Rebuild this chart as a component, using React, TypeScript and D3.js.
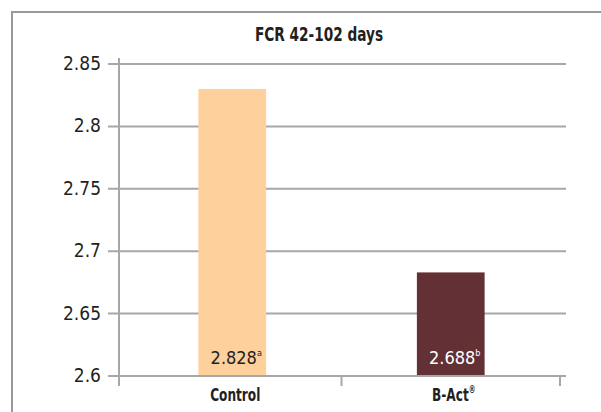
import React, { useEffect, useRef } from "react";
import * as d3 from "d3";

const categories = ["Control", "B-Act"];
const barValues = [2.83, 2.683];
const valueLabels = ["2.828", "2.688"];
const significance = ["a", "b"];
const yTicks = [2.6, 2.65, 2.7, 2.75, 2.8, 2.85];
const barColors = ["#fdd09c", "#633035"];
const labelColors = ["#231f20", "#ffffff"];

const App = () => {
  const svgRef = useRef<SVGSVGElement>(null);

  useEffect(() => {
    const width = 601,
      height = 412;
    const svg = d3.select(svgRef.current).attr("width", width).attr("height", height);
    svg.selectAll("*").remove();

    const font = "'DejaVu Sans Condensed', 'DejaVu Sans', sans-serif";
    const grid = "#a7a7a7";

    // frame
    svg
      .append("path")
      .attr("d", `M12,${height} L12,12 L${width},12`)
      .attr("fill", "none")
      .attr("stroke", "#9a9a9a")
      .attr("stroke-width", 2);

    const y = d3.scaleLinear().domain([2.6, 2.85]).range([376, 64]);
    const x = d3.scaleBand().domain(categories).range([123, 560]);
    const barW = x.bandwidth() * 0.31;

    svg
      .append("text")
      .attr("transform", "translate(319,41) scale(0.8,1)")
      .attr("text-anchor", "middle")
      .attr("font-family", font)
      .attr("font-weight", "bold")
      .attr("font-size", 19)
      .attr("fill", "#231f20")
      .text("FCR 42-102 days");

    // gridlines
    svg
      .append("g")
      .selectAll("line")
      .data(yTicks)
      .enter()
      .append("line")
      .attr("x1", 108)
      .attr("x2", 566)
      .attr("y1", (d) => y(d))
      .attr("y2", (d) => y(d))
      .attr("stroke", grid)
      .attr("stroke-width", 2);

    svg
      .append("g")
      .selectAll("text")
      .data(yTicks)
      .enter()
      .append("text")
      .attr("x", 101)
      .attr("y", (d) => y(d) + 6)
      .attr("text-anchor", "end")
      .attr("font-family", font)
      .attr("font-size", 19)
      .attr("fill", "#231f20")
      .text((d) => d3.format("")(d));

    // y axis line
    svg
      .append("line")
      .attr("x1", 119)
      .attr("x2", 119)
      .attr("y1", 58)
      .attr("y2", 386)
      .attr("stroke", grid)
      .attr("stroke-width", 2);

    // bars
    svg
      .append("g")
      .selectAll("rect")
      .data(barValues)
      .enter()
      .append("rect")
      .attr("x", (d, i) => x(categories[i])! + (x.bandwidth() - barW) / 2)
      .attr("y", (d) => y(d))
      .attr("width", barW)
      .attr("height", (d) => y(2.6) - y(d))
      .attr("fill", (d, i) => barColors[i]);

    // x axis over bars
    svg
      .append("line")
      .attr("x1", 108)
      .attr("x2", 566)
      .attr("y1", y(2.6))
      .attr("y2", y(2.6))
      .attr("stroke", grid)
      .attr("stroke-width", 2);

    const edges = categories.map((c) => x(c)! + x.bandwidth());
    svg
      .append("g")
      .selectAll("line")
      .data(edges)
      .enter()
      .append("line")
      .attr("x1", (d) => d)
      .attr("x2", (d) => d)
      .attr("y1", y(2.6))
      .attr("y2", y(2.6) + 10)
      .attr("stroke", grid)
      .attr("stroke-width", 2);

    // value labels
    const vl = svg
      .append("g")
      .selectAll("text")
      .data(valueLabels)
      .enter()
      .append("text")
      .attr("x", (d, i) => x(categories[i])! + x.bandwidth() / 2 + 4)
      .attr("y", 364)
      .attr("text-anchor", "middle")
      .attr("font-family", font)
      .attr("font-size", 18)
      .attr("fill", (d, i) => labelColors[i]);
    vl.append("tspan").text((d) => d);
    vl.append("tspan")
      .attr("font-size", 9)
      .attr("dy", -8)
      .text((d, i) => significance[i]);

    // category labels
    const cl = svg
      .append("g")
      .selectAll("text")
      .data(categories)
      .enter()
      .append("text")
      .attr("transform", (d) => `translate(${x(d)! + x.bandwidth() / 2 + 3},401) scale(0.75,1)`)
      .attr("text-anchor", "middle")
      .attr("font-family", font)
      .attr("font-weight", "bold")
      .attr("font-size", 18)
      .attr("fill", "#231f20");
    cl.append("tspan").text((d) => d);
    cl.filter((d) => d === "B-Act")
      .append("tspan")
      .attr("font-size", 10)
      .attr("dy", -8)
      .text("®");
  }, []);

  return (
    <div style={{ position: "absolute", left: 0, top: 0 }}>
      <svg ref={svgRef} style={{ display: "block" }}></svg>
    </div>
  );
};

export default App;
